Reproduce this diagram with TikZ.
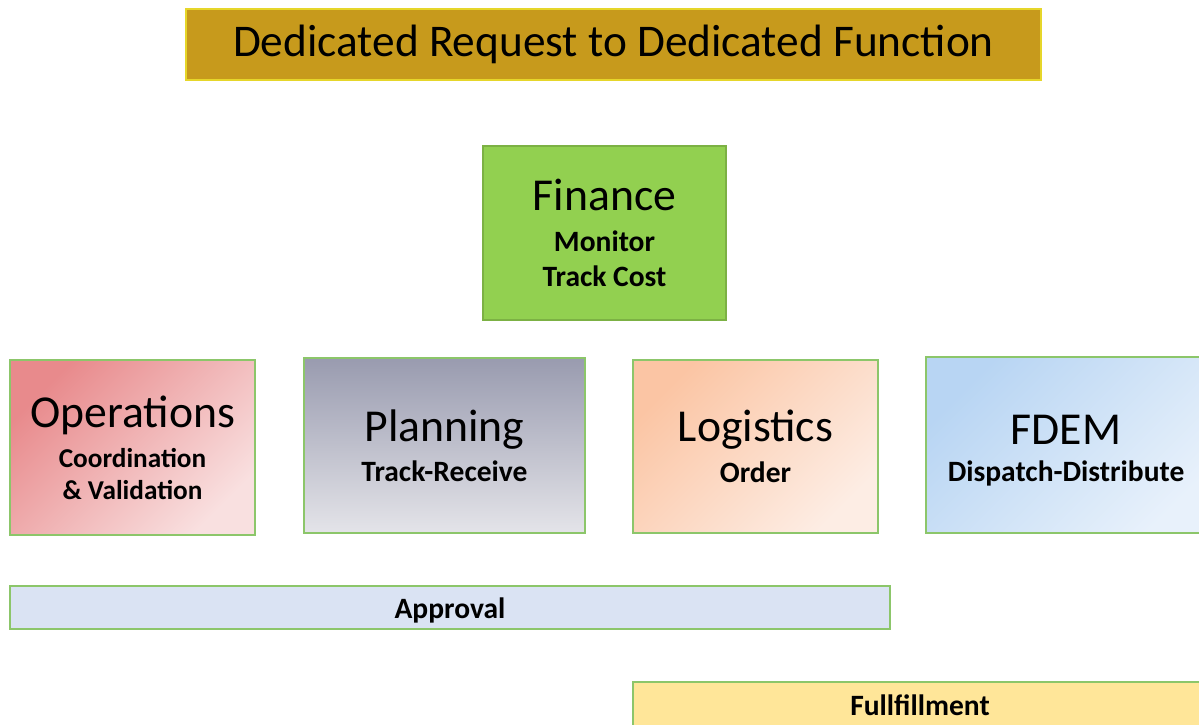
\documentclass[tikz,border=0pt]{standalone}
\usepackage{fontspec}
\setmainfont{Carlito}
\usetikzlibrary{positioning}
\definecolor{titlebg}{HTML}{C79A1C}
\definecolor{titleedge}{HTML}{E6D62A}
\definecolor{finbg}{HTML}{92D050}
\definecolor{edgegreen}{HTML}{8CC66A}
\definecolor{opstop}{HTML}{E88A8C}
\definecolor{opsbot}{HTML}{F9E0E0}
\definecolor{plantop}{HTML}{999BAF}
\definecolor{planbot}{HTML}{E4E4E9}
\definecolor{logitop}{HTML}{FBC5A4}
\definecolor{logibot}{HTML}{FDEDE4}
\definecolor{fdemtop}{HTML}{B8D5F3}
\definecolor{fdembot}{HTML}{E8F1FB}
\definecolor{apprbg}{HTML}{DAE3F3}
\definecolor{fulbg}{HTML}{FFE699}
\newcommand{\hd}{\fontsize{26}{28}\selectfont\mdseries}
\newcommand{\sbt}{\fontsize{16.8}{19}\selectfont\bfseries}
\newcommand{\sbs}{\fontsize{15.5}{18}\selectfont\bfseries}

\begin{document}
\begin{tikzpicture}[ x=0.02cm, y=-0.02cm
                   , box/.style={draw=edgegreen, line width=0.8pt, align=center, inner sep=0pt, font=\sbt}
                   , bar/.style={draw=edgegreen, line width=0.8pt, inner sep=0pt, font=\sbt}
                   ]

  \useasboundingbox (0,0) rectangle (1199,724);
  \clip (0,0) rectangle (1199,724);

  \node (title) [draw=titleedge, fill=titlebg, line width=1pt, minimum width=855*0.02cm, minimum height=71*0.02cm]
        at (613.5,44.5) {\fontsize{25.8}{28}\selectfont Dedicated Request to Dedicated Function};

  \node (finance) [box, fill=finbg, draw=finbg!85!black, minimum width=243*0.02cm, minimum height=174*0.02cm]
        at (604.5,233) {{\hd Finance}\\[4pt]{\sbt Monitor}\\[1pt]{\sbt Track Cost}};

  \node (ops) [box, font=\sbs, top color=opstop, bottom color=opsbot, shading angle=45, minimum width=245*0.02cm, minimum height=175*0.02cm]
        at (132.5,447.5) {{\hd Operations}\\[5pt]{\sbs Coordination}\\[0pt]{\sbs \& Validation}};

  \node (plan) [box, top color=plantop, bottom color=planbot, minimum width=281*0.02cm, minimum height=175*0.02cm]
        at (444.5,445.5) {{\hd Planning}\\[4pt]{\sbt Track-Receive}};

  \node (logi) [box, top color=logitop, bottom color=logibot, shading angle=45, minimum width=245*0.02cm, minimum height=173*0.02cm]
        at (755.5,446.5) {{\hd Logistics}\\[4pt]{\sbt Order}};

  \node (fdem) [box, top color=fdemtop, bottom color=fdembot, shading angle=45, minimum width=290*0.02cm, minimum height=176*0.02cm]
        at (1071,445) {};
  \node (fdemtxt) [align=center, font=\sbt] at (1066,451) {{\hd FDEM}\\[2pt]{\sbt Dispatch-Distribute}};

  \node (approval) [bar, fill=apprbg, minimum width=880*0.02cm, minimum height=43*0.02cm]
        at (450,607.5) {};
  \node (apprtxt) [font=\sbt] at (450,610) {Approval};

  \node (fulfil) [bar, fill=fulbg, minimum width=600*0.02cm, minimum height=50*0.02cm]
        at (933,707) {};
  \node (fultxt) [font=\sbt] at (920,705) {Fullfillment};

\end{tikzpicture}
\end{document}
